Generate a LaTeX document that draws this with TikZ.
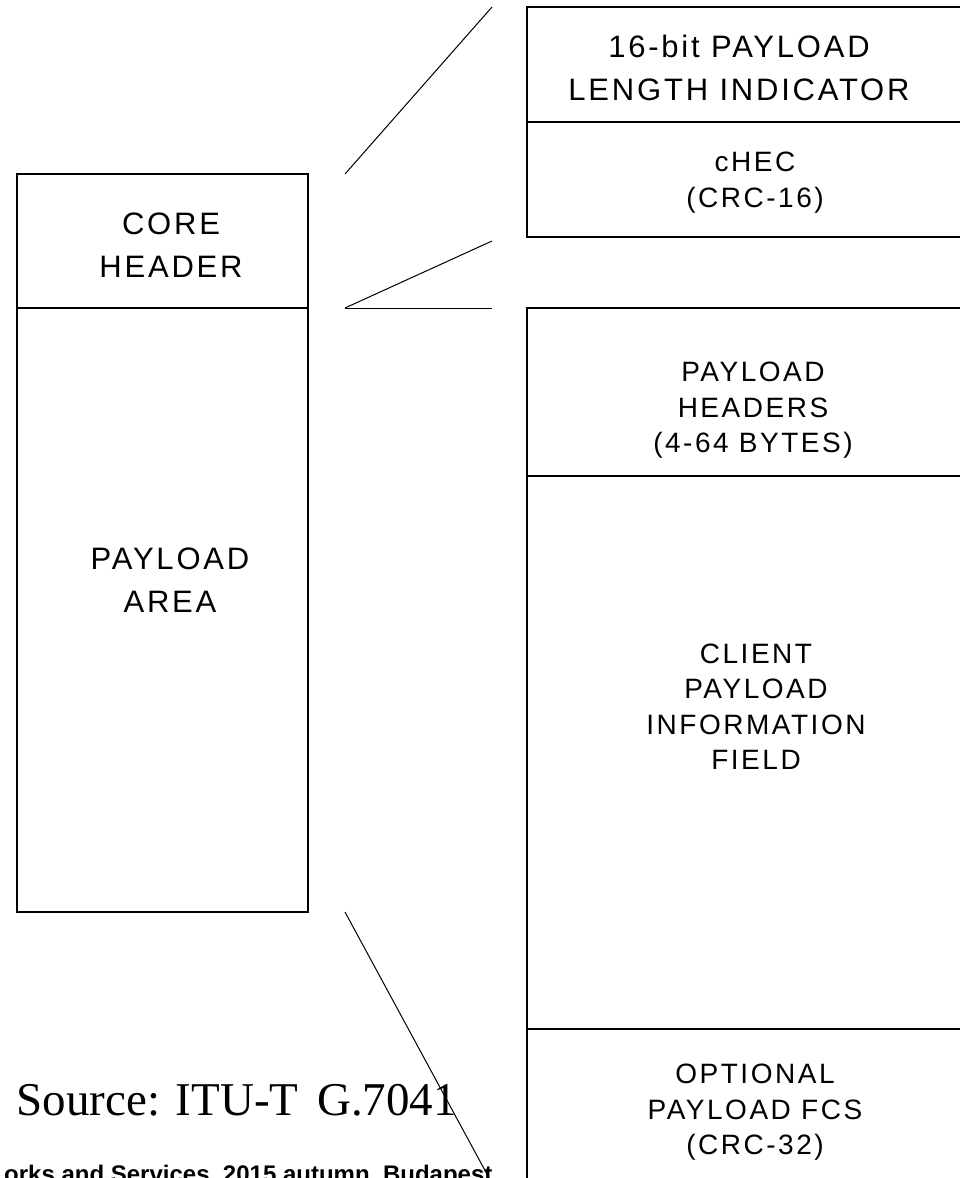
\documentclass[tikz,border=0pt]{standalone}
\usepackage{fontspec}
\usepackage{tikz}
\newfontfamily\gfpfont[LetterSpace=9]{Liberation Sans}
\newfontfamily\gfpplain{Liberation Sans}
\newfontfamily\gfpserif{Liberation Serif}

\begin{document}
\begin{tikzpicture}[x=1pt,y=-1pt,line width=1.2pt,
    bigtxt/.style={align=center,inner sep=0pt,font=\gfpfont\fontsize{31}{43}\selectfont},
    smalltxt/.style={align=center,inner sep=0pt,font=\gfpfont\fontsize{28}{35.5}\selectfont}]
    \useasboundingbox (0,0) rectangle (959,1178);

    % GFP frame
    \draw (17,174) rectangle (308,912);
    \draw (17,308) -- (308,308);
    \node[bigtxt] (core) at (171,245.5) {CORE\\HEADER};
    \node[bigtxt] (area) at (170,580.5) {PAYLOAD\\AREA};

    % Core header fields
    \draw (527,7) rectangle (990,237);
    \draw (527,122) -- (990,122);
    \node[bigtxt] (pli) at (739,67.5) {16-bit PAYLOAD\\LENGTH INDICATOR};
    \node[smalltxt] (chec) at (755,182.5) {cHEC\\(CRC-16)};

    % Payload area fields
    \draw (527,308) rectangle (990,1200);
    \draw (527,476) -- (990,476);
    \draw (527,1029) -- (990,1029);
    \node[smalltxt] (phdr) at (753,410.5) {PAYLOAD\\HEADERS\\(4-64 BYTES)};
    \node[smalltxt] (info) at (756,706.5) {CLIENT\\PAYLOAD\\INFORMATION\\FIELD};
    \node[smalltxt] (fcs) at (755,1112.5) {OPTIONAL\\PAYLOAD FCS\\(CRC-32)};

    % Expansion lines
    \coordinate (hdtop) at (345,174);
    \coordinate (hdbot) at (345,308);
    \coordinate (pltop) at (345,308);
    \coordinate (plbot) at (345,912);
    \draw[line width=1pt] (hdtop) -- (492,7);
    \draw[line width=1pt] (hdbot) -- (492,241);
    \draw[line width=1pt] (pltop) -- (492,308);
    \draw[line width=1pt] (plbot) -- (501,1200);

    % Source and footer
    \node[anchor=base west,inner sep=0pt,font=\gfpserif\fontsize{47}{56}\selectfont] (src) at (16,1115) {Source: ITU-T\hspace{0.4em}G.7041};
    \node[anchor=base east,inner sep=0pt,font=\gfpplain\bfseries\fontsize{24}{28}\selectfont] (foot) at (493,1182) {orks and Services, 2015 autumn, Budapest};
\end{tikzpicture}
\end{document}
